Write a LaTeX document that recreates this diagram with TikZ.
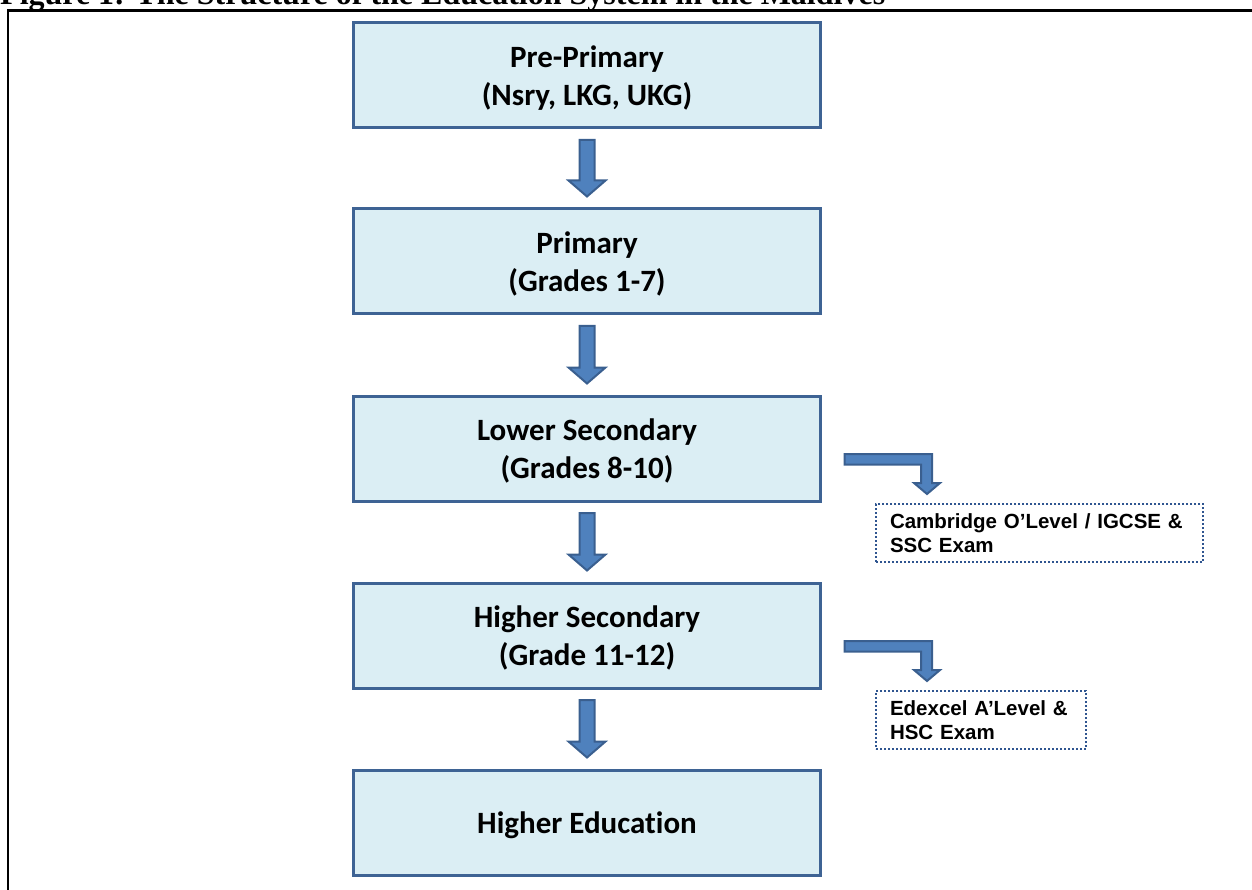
\documentclass[tikz,border=0pt]{standalone}
\usepackage{fontspec}
\setmainfont{Liberation Serif}
\newfontfamily\boxfont[Ligatures=NoCommon]{Carlito}
\newfontfamily\examfont{Liberation Sans}
\usetikzlibrary{calc}
\definecolor{boxfill}{HTML}{DBEEF4}
\definecolor{boxline}{HTML}{3E6394}
\definecolor{arrowfill}{HTML}{4F81BD}
\definecolor{arrowline}{HTML}{3A5F8F}
\definecolor{examline}{HTML}{2F5590}
\newcommand{\myDownArrow}[2]{%
  \filldraw[blockarrow] let \p1=(#1.south), \p2=(#2.north) in
  (\x1-7.5pt,\y1-10.5pt) -- (\x1+7.5pt,\y1-10.5pt) -- (\x1+7.5pt,\y2+27pt) --
  (\x1+18.5pt,\y2+27pt) -- (\x1,\y2+11pt) -- (\x1-18.5pt,\y2+27pt) --
  (\x1-7.5pt,\y2+27pt) -- cycle;}
\newcommand{\myBentArrow}[2]{%
  \filldraw[blockarrow] let \p1=(#1.east), \p2=(#2.north west) in
  (\x1+22.5pt,\y1-5.5pt) -- (\x2+57pt,\y1-5.5pt) -- (\x2+57pt,\y2+20pt) --
  (\x2+65pt,\y2+20pt) -- (\x2+52pt,\y2+9pt) -- (\x2+39pt,\y2+20pt) --
  (\x2+46pt,\y2+20pt) -- (\x2+46pt,\y1-16pt) -- (\x1+22.5pt,\y1-16pt) -- cycle;}
\begin{document}
\begin{tikzpicture}[x=1pt,y=-1pt,
  level/.style={draw=boxline, line width=3pt, fill=boxfill,
    minimum width=467pt, minimum height=105pt, align=center, inner sep=0pt,
    text depth=0pt,
    font=\boxfont\bfseries\fontsize{31}{38}\selectfont},
  exam/.style={draw=examline, line width=2pt, dash pattern=on 2pt off 2pt,
    align=left, inner xsep=14pt, inner ysep=0pt, minimum height=58pt,
    anchor=north west, font=\examfont\bfseries\fontsize{20.5}{24}\selectfont},
  blockarrow/.style={fill=arrowfill, draw=arrowline, line width=2pt, line join=miter}]
\useasboundingbox (0,0) rectangle (1252,890);
\clip (0,0) rectangle (1252,890);
\node[anchor=base west, inner sep=0pt, font=\bfseries\fontsize{32}{38}\selectfont] (title) at (0,5)
  {Figure 1: The Structure of the Education System in the Maldives};
\draw[line width=2.3pt] (8.3,900) -- (8.3,10.5) -- (1260,10.5);
\node[level] (pre) at (587,75.5) {Pre-Primary\\(Nsry, LKG, UKG)};
\node[level] (pri) at (587,261.5) {Primary\\(Grades 1-7)};
\node[level] (low) at (587,448.5) {Lower Secondary\\(Grades 8-10)};
\node[level] (hig) at (587,635.5) {Higher Secondary\\(Grade 11-12)};
\node[level] (hed) at (587,822.5) {Higher Education};
\node[exam, text width=299pt] (ssc) at (875,503) {Cambridge O’Level / IGCSE \&\\SSC Exam};
\node[exam, text width=182pt] (hsc) at (875,690) {Edexcel A’Level \&\\HSC Exam};
\myDownArrow{pre}{pri}
\myDownArrow{pri}{low}
\myDownArrow{low}{hig}
\myDownArrow{hig}{hed}
\myBentArrow{low}{ssc}
\myBentArrow{hig}{hsc}
\end{tikzpicture}
\end{document}
